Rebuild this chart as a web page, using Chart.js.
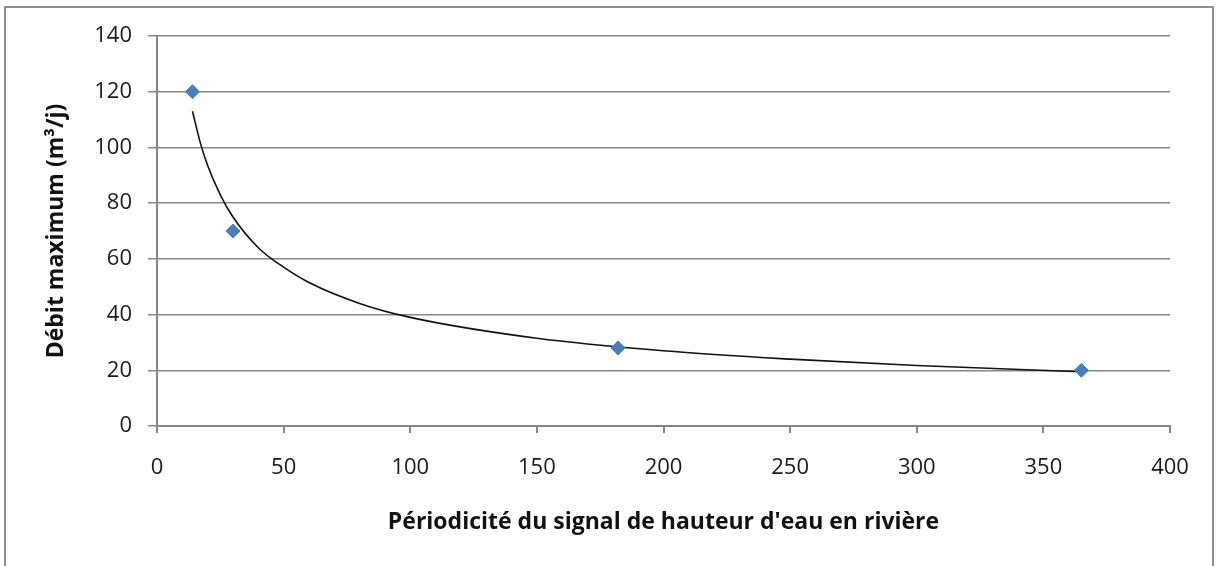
<!DOCTYPE html>
<html>
<head>
<meta charset="utf-8">
<script src="https://cdn.jsdelivr.net/npm/chart.js@4"></script>
<style>
  html, body { margin: 0; padding: 0; background: #fff; }
  #frame { position: absolute; left: 4px; top: 6px; width: 1210px; height: 600px; border: 2px solid #8e8e93; box-sizing: border-box; }
  #wrap { position: absolute; left: 0; top: 0; width: 1218px; height: 566px; }
</style>
</head>
<body>
<div id="frame"></div>
<div id="wrap"><canvas id="chart" width="1218" height="566"></canvas></div>
<script>
// measured points
const periodDays = [14, 30, 182, 365]
const debitMax = [120, 70, 28, 20]

// power trend line
const trendX = [14, 17, 20, 25, 30, 40, 50, 60, 80, 100, 150, 200, 250, 300, 365]
const trendY = [113, 102, 93.5, 83, 75, 64, 57, 51.5, 44, 39, 31.5, 27, 24, 21.7, 19.5]

const xTicks = [0, 50, 100, 150, 200, 250, 300, 350, 400]
const yTicks = [0, 20, 40, 60, 80, 100, 120, 140]

const axisGrey = '#868686'
const tickFont = { family: 'Open Sans', size: 22 }
const titleFont = { family: 'Open Sans', size: 23, weight: 'bold' }

const ctx = document.getElementById('chart').getContext('2d')
new Chart(ctx, {
  type: 'scatter',
  data: {
    datasets: [{
      label: 'Débit maximum',
      data: periodDays.map((x, i) => ({ x: x, y: debitMax[i] })),
      pointStyle: 'rectRot',
      pointRadius: 7,
      backgroundColor: '#4a7ebb',
      borderColor: '#4a7ebb',
      borderWidth: 1,
      order: 1
    }, {
      label: 'Tendance',
      type: 'line',
      data: trendX.map((x, i) => ({ x: x, y: trendY[i] })),
      borderColor: '#111',
      borderWidth: 1.6,
      pointRadius: 0,
      cubicInterpolationMode: 'monotone',
      fill: false,
      order: 2
    }]
  },
  options: {
    responsive: false,
    animation: false,
    layout: { padding: { left: 0, top: 36, right: 48, bottom: 0 } },
    plugins: { legend: { display: false }, tooltip: { enabled: false } },
    scales: {
      x: {
        type: 'linear',
        min: 0, max: 400,
        afterBuildTicks: (axis) => { axis.ticks = xTicks.map(v => ({ value: v })) },
        ticks: { font: tickFont, color: '#1a1a1a', padding: 22, maxRotation: 0 },
        grid: { drawOnChartArea: false, drawTicks: true, tickLength: 7, color: axisGrey, lineWidth: 2 },
        border: { color: axisGrey, width: 2 },
        title: { display: true, text: "Périodicité du signal de hauteur d'eau en rivière", font: titleFont, color: '#111', padding: { top: 0, bottom: 30 } },
        afterFit: (axis) => { axis.height = 140 }
      },
      y: {
        min: 0, max: 140,
        afterBuildTicks: (axis) => { axis.ticks = yTicks.map(v => ({ value: v })) },
        ticks: { font: tickFont, color: '#1a1a1a', padding: 16 },
        grid: { color: axisGrey, lineWidth: 1.5, tickLength: 9 },
        border: { color: axisGrey, width: 2 },
        title: { display: true, text: 'Débit maximum (m³/j)', font: titleFont, color: '#111', padding: { top: 43, bottom: 0 } },
        afterFit: (axis) => { axis.width = 157 }
      }
    }
  }
})
</script>
</body>
</html>
